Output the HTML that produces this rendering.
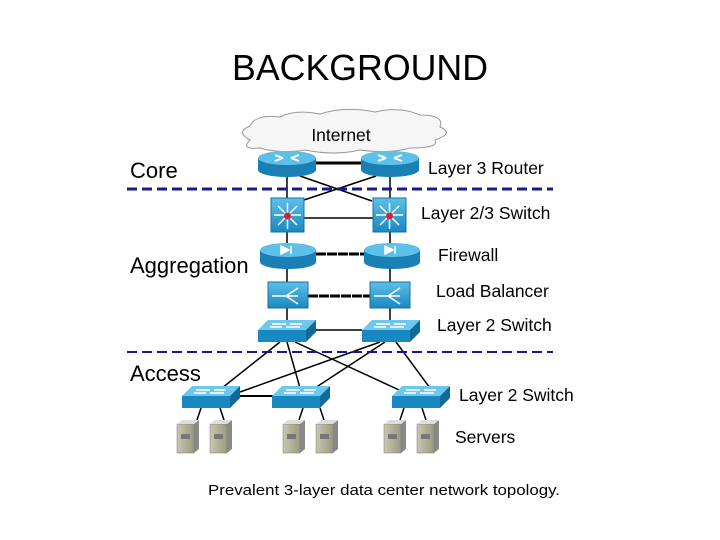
<!DOCTYPE html>
<html><head><meta charset="utf-8"><style>
body{margin:0;background:#fff;width:720px;height:540px;overflow:hidden}
svg{display:block}
</style></head><body>
<svg width="720" height="540" viewBox="0 0 720 540" xmlns="http://www.w3.org/2000/svg" font-family="Liberation Sans, sans-serif">
<defs>
<linearGradient id="bl" x1="0" y1="0" x2="0" y2="1"><stop offset="0" stop-color="#5cc0e8"/><stop offset="1" stop-color="#1a88c0"/></linearGradient>
<linearGradient id="sv" x1="0" y1="0" x2="1" y2="0"><stop offset="0" stop-color="#c8c8b0"/><stop offset="1" stop-color="#9a9a80"/></linearGradient>
</defs>
<text x="360" y="80" font-size="36" text-anchor="middle" fill="#000" textLength="256" lengthAdjust="spacingAndGlyphs">BACKGROUND</text>
<path d="M250,140 q-15,-8 0,-14 q5,-12 30,-9 q15,-8 40,-3 q25,-8 55,-2 q25,-6 45,3 q25,0 20,12 q15,6 -5,13 q5,8 -25,8 q-20,6 -50,2 q-25,6 -55,0 q-25,4 -45,-2 q-20,2 -10,-8 z" fill="#f6f6f6" stroke="#999" stroke-width="1"/>
<text x="341" y="141" font-size="17.5" text-anchor="middle">Internet</text>
<g stroke="#000" stroke-width="1.5" fill="none">
<line x1="316" y1="163" x2="364" y2="163" stroke-width="3"/>
<line x1="300" y1="176" x2="372" y2="201"/>
<line x1="376" y1="176" x2="304" y2="200"/>
<line x1="287" y1="170" x2="287" y2="330"/>
<line x1="390" y1="170" x2="390" y2="330"/>
<line x1="304" y1="218" x2="373" y2="218"/>
<line x1="316" y1="254" x2="364" y2="254" stroke-width="3" stroke-dasharray="10,1"/>
<line x1="308" y1="296" x2="370" y2="296" stroke-width="3" stroke-dasharray="10,1"/>
<line x1="316" y1="330" x2="362" y2="330"/>
<line x1="280" y1="342" x2="222" y2="388"/>
<line x1="287" y1="342" x2="300" y2="388"/>
<line x1="295" y1="342" x2="410" y2="395"/>
<line x1="380" y1="342" x2="240" y2="392"/>
<line x1="385" y1="342" x2="315" y2="388"/>
<line x1="396" y1="342" x2="430" y2="388"/>
<line x1="238" y1="396" x2="286" y2="396" stroke-width="2"/>
<line x1="201" y1="408" x2="197" y2="420"/><line x1="220" y1="408" x2="224" y2="420"/>
<line x1="303" y1="408" x2="299" y2="420"/><line x1="320" y1="408" x2="324" y2="420"/>
<line x1="404" y1="408" x2="400" y2="420"/><line x1="422" y1="408" x2="426" y2="420"/>
</g>
<line x1="127" y1="189" x2="553" y2="189" stroke="#1a1a8a" stroke-width="3" stroke-dasharray="10,5"/>
<line x1="127" y1="352" x2="553" y2="352" stroke="#1a1a8a" stroke-width="2" stroke-dasharray="10,5"/>
<g id="r">
<path d="M258,158 v12 a29,7 0 0 0 58,0 v-12z" fill="#1a7fb5"/>
<ellipse cx="287" cy="158" rx="29" ry="7" fill="#5cc0e8"/>
<path d="M275,155 l8,3 m8,0 l8,-3 m-24,6 l8,-3 m8,0 l8,3" stroke="#fff" stroke-width="2"/>
</g>
<use href="#r" x="103"/>
<g id="s">
<rect x="271" y="198" width="33" height="34" fill="url(#bl)" stroke="#1a70a0"/>
<path d="M287.5,203 v26 M274,215 h27 M278,206 l19,19 M297,206 l-19,19" stroke="#fff" stroke-width="1.5"/>
<circle cx="287.5" cy="216" r="3.5" fill="#d02040"/>
</g>
<use href="#s" x="102"/>
<g id="f">
<path d="M260,250 v12 a28,7 0 0 0 56,0 v-12z" fill="#1a7fb5"/>
<ellipse cx="288" cy="250" rx="28" ry="7" fill="#5cc0e8"/>
<path d="M281,246 l8,4 l-8,4z M291,246 v8" fill="#fff" stroke="#fff" stroke-width="1.5"/>
</g>
<use href="#f" x="104"/>
<g id="l">
<rect x="268" y="282" width="40" height="26" fill="url(#bl)" stroke="#1a70a0"/>
<path d="M272,296 h14 l12,-8 m-12,8 l12,8 m-12,-8 h12" stroke="#fff" stroke-width="1.5" fill="none"/>
</g>
<use href="#l" x="102"/>
<g id="w">
<path d="M258,330 l10,-10 h48 l-10,10z" fill="#6cc8ec"/>
<rect x="258" y="330" width="48" height="12" fill="#1a88c0"/>
<path d="M306,330 l10,-10 v12 l-10,10z" fill="#0f6a9a"/>
<path d="M272,324 h14 m4,0 h12 m-32,3 h12 m4,0 h14" stroke="#fff" stroke-width="1.5"/>
</g>
<use href="#w" x="104"/>
<use href="#w" x="-76" y="66"/>
<use href="#w" x="14" y="66"/>
<use href="#w" x="134" y="66"/>
<g id="v">
<rect x="177" y="424" width="17" height="29" fill="url(#sv)" stroke="#777" stroke-width=".5"/>
<path d="M194,424 l5,-4 v29 l-5,4z" fill="#888"/>
<path d="M177,424 l5,-4 h17 l-5,4z" fill="#ddd"/>
<rect x="181" y="434" width="9" height="5" fill="#777"/>
</g>
<use href="#v" x="33"/>
<use href="#v" x="106"/><use href="#v" x="139"/>
<use href="#v" x="207"/><use href="#v" x="240"/>
<g font-size="22" fill="#000">
<text x="130" y="178">Core</text>
<text x="130" y="273">Aggregation</text>
<text x="130" y="381">Access</text>
</g>
<g font-size="17.5" fill="#000">
<text x="428" y="174">Layer 3 Router</text>
<text x="421" y="219">Layer 2/3 Switch</text>
<text x="438" y="261">Firewall</text>
<text x="436" y="297">Load Balancer</text>
<text x="437" y="331">Layer 2 Switch</text>
<text x="459" y="401">Layer 2 Switch</text>
<text x="455" y="443">Servers</text>
</g>
<text x="384" y="495" font-size="15" text-anchor="middle" textLength="352" lengthAdjust="spacingAndGlyphs">Prevalent 3-layer data center network topology.</text>
</svg>
</body></html>
